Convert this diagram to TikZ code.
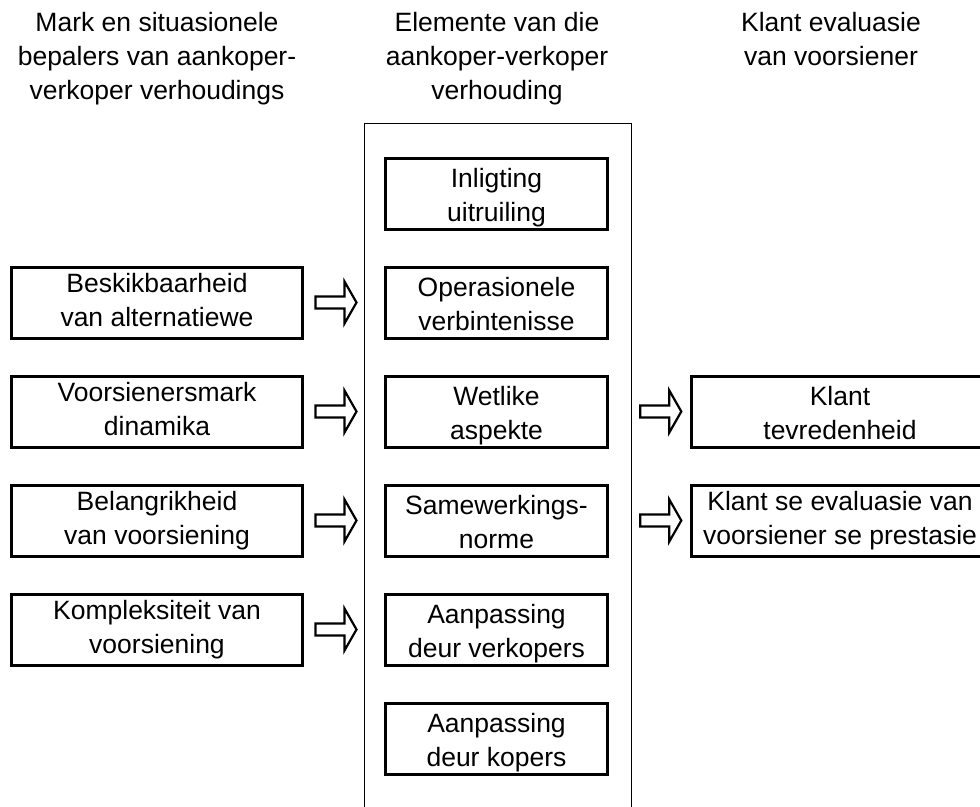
\documentclass[tikz,border=0pt]{standalone}
\usepackage{fontspec}
\setmainfont{Liberation Sans}
\usetikzlibrary{calc}
\newsavebox\mlbox
\newcommand\ml[1]{\begin{tabular}{@{}c@{}}#1\end{tabular}}
\newcommand\mlc[1]{\sbox\mlbox{\ml{#1}}\raisebox{-4pt}[\ht\mlbox][\dp\mlbox]{\usebox\mlbox}}
\newcommand\barrow[1]{\draw[blockarr] #1 ++(0,-6) -- ++(29,0) -- ++(0,-15) -- ++(12,21) -- ++(-12,21) -- ++(0,-15) -- ++(-29,0) -- cycle;}
\begin{document}
\begin{tikzpicture}[x=1pt,y=-1pt, font=\fontsize{26.5}{34}\selectfont,
  box/.style={draw, line width=3pt, minimum height=71pt, inner sep=0pt, fill=white},
  cbox/.style={box, minimum width=222pt},
  lbox/.style={box, minimum width=291pt},
  rbox/.style={box, minimum width=297pt},
  hdr/.style={inner sep=0pt},
  blockarr/.style={draw, fill=white, line width=2.2pt, line join=miter}]
\clip (0,0) rectangle (980,806);
\fill[white] (0,0) rectangle (980,806);
% container
\node[draw, line width=1.3pt, minimum width=267pt, minimum height=800pt, anchor=north west, inner sep=0pt] (container) at (363.5,122.5) {};
% headers
\node[hdr] (h1) at (157,59) {\ml{Mark en situasionele\\bepalers van aankoper-\\verkoper verhoudings}};
\node[hdr] (h2) at (497,59) {\ml{Elemente van die\\aankoper-verkoper\\verhouding}};
\node[hdr] (h3) at (831,42) {\ml{Klant evaluasie\\van voorsiener}};
% centre boxes
\node[cbox] (c1) at (496.5,193.5) {\mlc{Inligting\\uitruiling}};
\node[cbox] (c2) at (496.5,302.5) {\mlc{Operasionele\\verbintenisse}};
\node[cbox] (c3) at (496.5,411.5) {\mlc{Wetlike\\aspekte}};
\node[cbox] (c4) at (496.5,520.5) {\mlc{Samewerkings-\\norme}};
\node[cbox] (c5) at (496.5,629.5) {\mlc{Aanpassing\\deur verkopers}};
\node[cbox] (c6) at (496.5,738.5) {\mlc{Aanpassing\\deur kopers}};
% left boxes
\node[lbox] (l1) at (157,302.5) {\ml{Beskikbaarheid\\van alternatiewe}};
\node[lbox] (l2) at (157,411.5) {\ml{Voorsienersmark\\dinamika}};
\node[lbox] (l3) at (157,520.5) {\ml{Belangrikheid\\van voorsiening}};
\node[lbox] (l4) at (157,629.5) {\ml{Kompleksiteit van\\voorsiening}};
% right boxes
\node[rbox] (r1) at (840,411.5) {\mlc{Klant\\tevredenheid}};
\node[rbox] (r2) at (840,520.5) {\ml{Klant se evaluasie van\\voorsiener se prestasie}};
% block arrows
\barrow{($(l1.east)+(11.5,0)$)}
\barrow{($(l2.east)+(11.5,0)$)}
\barrow{($(l3.east)+(11.5,0)$)}
\barrow{($(l4.east)+(11.5,0)$)}
\barrow{($(container.east |- r1.west)+(8.5,0)$)}
\barrow{($(container.east |- r2.west)+(8.5,0)$)}
\end{tikzpicture}
\end{document}
